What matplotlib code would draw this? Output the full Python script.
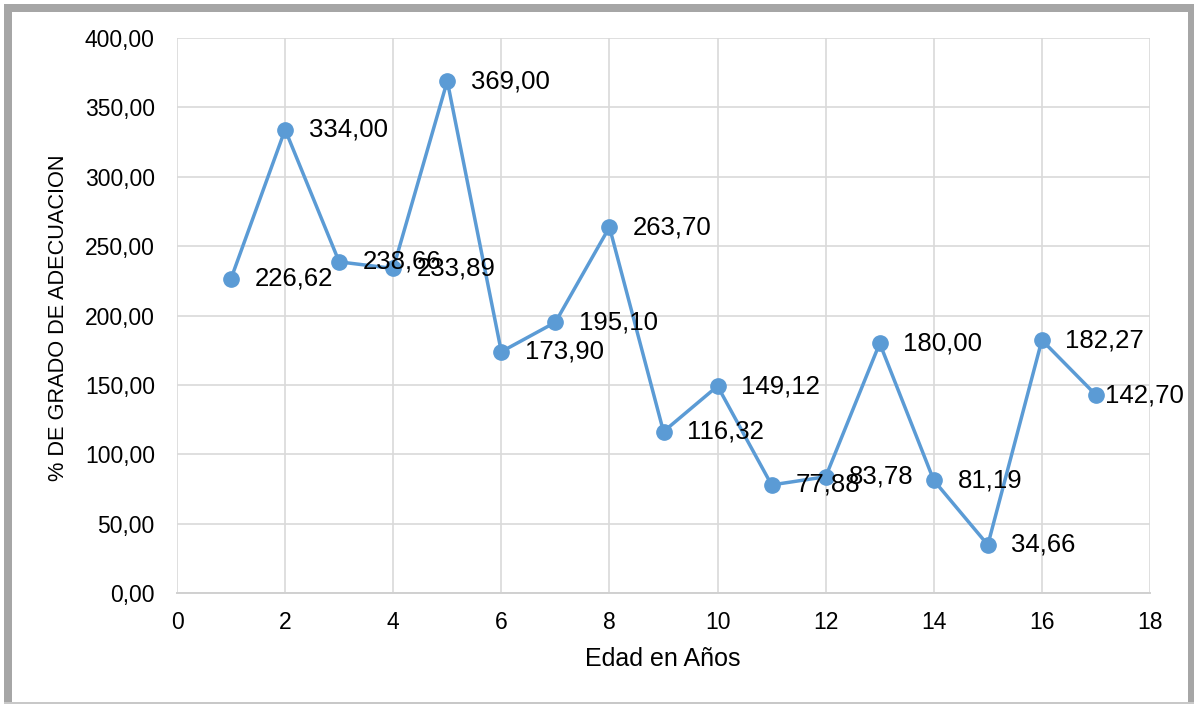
import matplotlib
matplotlib.use("Agg")
import matplotlib.pyplot as plt
from matplotlib.patches import Rectangle

plt.rcParams['font.family'] = ['Liberation Sans', 'DejaVu Sans']

edades = [1, 2, 3, 4, 5, 6, 7, 8, 9, 10, 11, 12, 13, 14, 15, 16, 17]
adecuacion = [226.62, 334.00, 238.66, 233.89, 369.00, 173.90, 195.10, 263.70,
              116.32, 149.12, 77.88, 83.78, 180.00, 81.19, 34.66, 182.27, 142.70]
x_ticks = [0, 2, 4, 6, 8, 10, 12, 14, 16, 18]
y_ticks = [0, 50, 100, 150, 200, 250, 300, 350, 400]
x_title = "Edad en Años"
y_title = "% DE GRADO DE ADECUACION"

W, H = 1195, 704
fig = plt.figure(figsize=(W / 100, H / 100), dpi=100)

# outer frame
fig.patches.append(Rectangle((4 / W, 2 / H), 8 / W, (H - 4 - 2) / H, transform=fig.transFigure,
                             color='#A6A6A6', lw=0))
fig.patches.append(Rectangle((4 / W, (H - 12) / H), (1193 - 4) / W, 8 / H, transform=fig.transFigure,
                             color='#A6A6A6', lw=0))
fig.patches.append(Rectangle((1188 / W, 0), 6 / W, (H - 4) / H, transform=fig.transFigure,
                             color='#A6A6A6', lw=0))
fig.patches.append(Rectangle((4 / W, 0), (1194 - 4) / W, 2 / H, transform=fig.transFigure,
                             color='#C8C8C8', lw=0))

left, right, top, bottom = 177, 1150, 38, 593
ax = fig.add_axes([left / W, (H - bottom) / H, (right - left) / W, (bottom - top) / H])

color = '#5B9BD5'
ax.plot(edades, adecuacion, color=color, lw=2.5, marker='o', markersize=11, zorder=3,
        clip_on=False)

for i, (x, y) in enumerate(zip(edades, adecuacion)):
    dx = 17 if i < len(edades) - 1 else 6.5
    ax.annotate(f"{y:.2f}".replace('.', ','), (x, y), xytext=(dx, 0),
                textcoords='offset points', ha='left', va='center',
                fontsize=18.5, color='black', zorder=4)

ax.set_xlim(0, 18)
ax.set_ylim(0, 400)
ax.set_xticks(x_ticks)
ax.set_yticks(y_ticks)
ax.set_xticklabels([str(t) for t in x_ticks])
ax.set_yticklabels([f"{t:.2f}".replace('.', ',') for t in y_ticks])
ax.tick_params(axis='both', length=0, labelsize=16.5, colors='black')
ax.tick_params(axis='y', pad=16)
ax.tick_params(axis='x', pad=13)
ax.grid(True, color='#D9D9D9', lw=1.2, zorder=0)
ax.set_axisbelow(True)
for s in ['top', 'right', 'left']:
    ax.spines[s].set_visible(False)
ax.spines['bottom'].set_color('#D0D0D0')
ax.spines['bottom'].set_linewidth(1.4)

fig.text(663 / W, (H - 659) / H, x_title, ha='center', va='center', fontsize=18)
fig.text(59 / W, (H - 318) / H, y_title, ha='center', va='center', fontsize=15.7, rotation=90)

fig.savefig("out.png", dpi=100)
